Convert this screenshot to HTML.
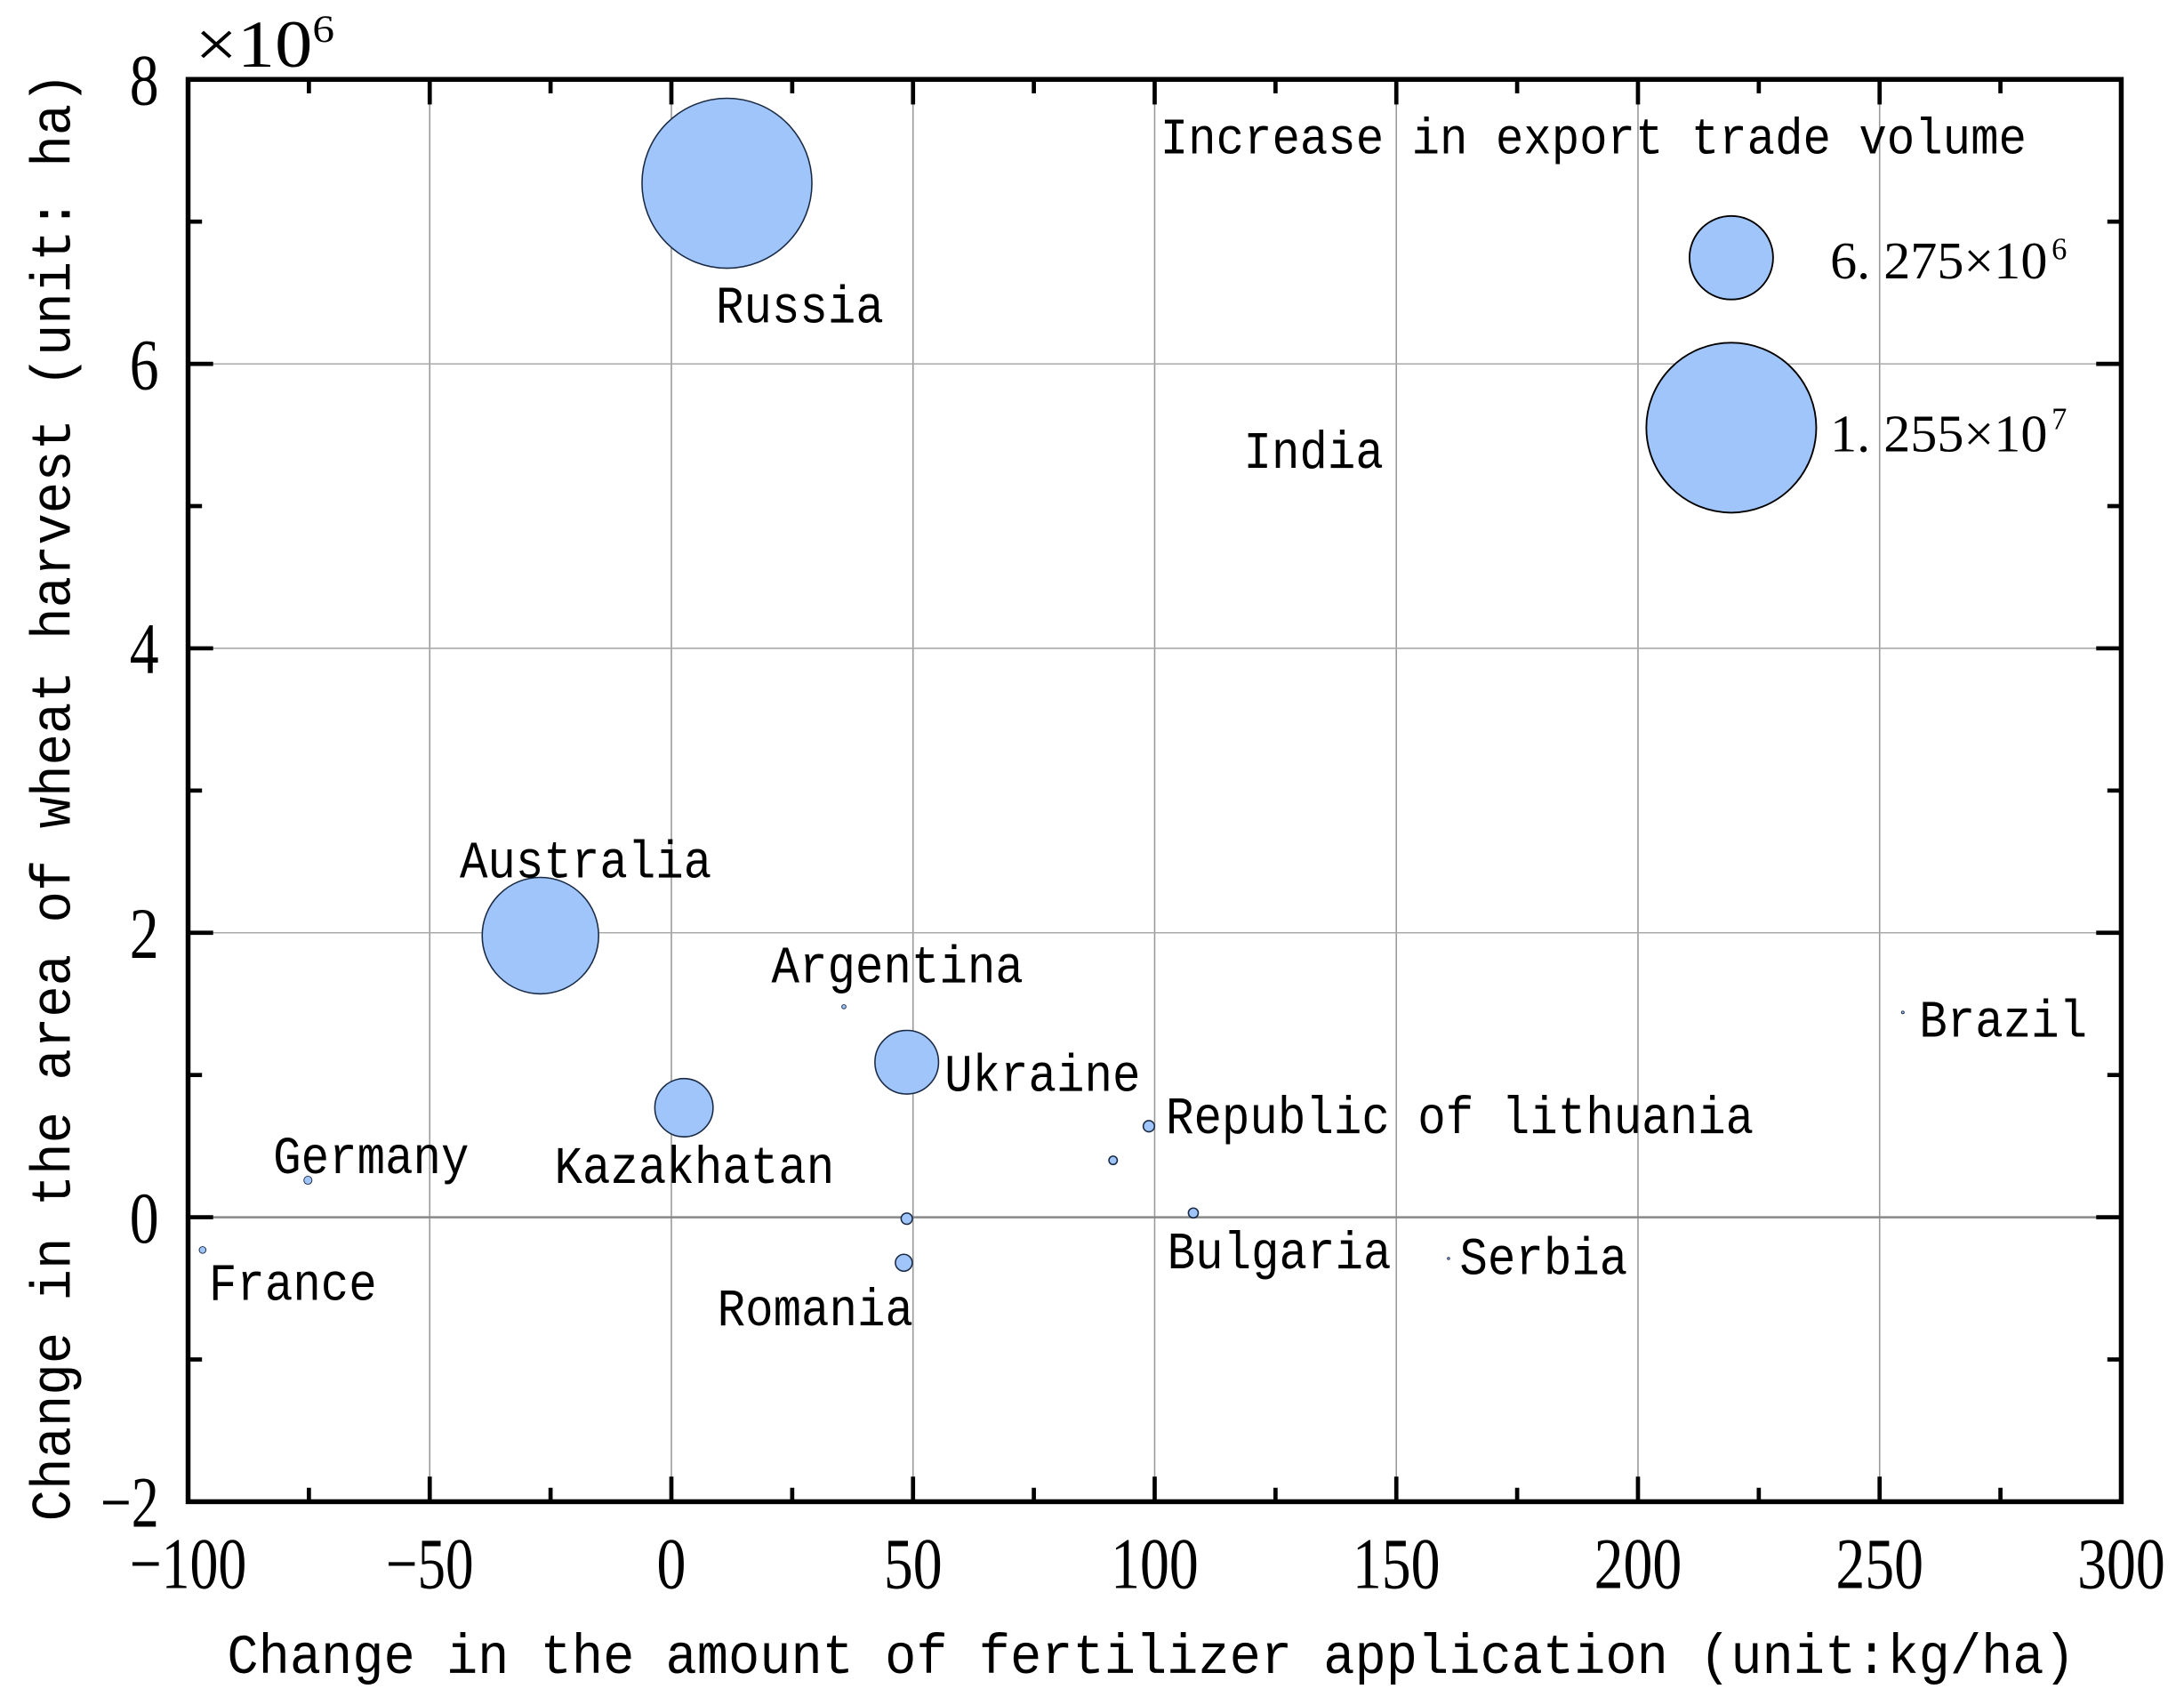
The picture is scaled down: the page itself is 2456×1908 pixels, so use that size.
<!DOCTYPE html>
<html><head><meta charset="utf-8"><style>
html,body{margin:0;padding:0;background:#fff;width:2456px;height:1908px;overflow:hidden}
svg{display:block}
.mono{font-family:"Liberation Mono","Noto Serif CJK SC",monospace}
.num{font-family:"Liberation Serif",serif}
</style></head><body>
<svg id="chart" width="2456" height="1908" viewBox="0 0 1568 1218.2" xmlns="http://www.w3.org/2000/svg">
<g id="grid"></g>
<g id="bubbles"></g>
<g id="labels"></g>
<rect x="135" y="57" width="1388" height="1021" fill="none" stroke="#000" stroke-width="3.5"/>
<g id="ticks"></g>
<text class="num" x="140" y="48" font-size="48" textLength="100" lengthAdjust="spacingAndGlyphs">×10<tspan dy="-18" font-size="28">6</tspan></text>
<text class="mono" transform="translate(50,572) rotate(-90)" text-anchor="middle" font-size="40" textLength="1040" lengthAdjust="spacingAndGlyphs">Change in the area of wheat harvest (unit: ha)</text>
<text class="mono" x="163" y="1201" font-size="40" textLength="1327" lengthAdjust="spacingAndGlyphs">Change in the amount of fertilizer application (unit:kg/ha)</text>
<g>
<text class="mono" x="833" y="110" font-size="37" textLength="622" lengthAdjust="spacingAndGlyphs">Increase in export trade volume</text>
<circle cx="1243" cy="185" r="30" fill="#9fc5fa" stroke="#000" stroke-width="1.2"/>
<circle cx="1243" cy="307" r="61" fill="#9fc5fa" stroke="#000" stroke-width="1.2"/>
<text class="num" x="1314" y="200" font-size="38" textLength="156" lengthAdjust="spacingAndGlyphs">6. 275×10</text>
<text class="num" x="1473" y="186" font-size="22">6</text>
<text class="num" x="1314" y="324" font-size="38" textLength="156" lengthAdjust="spacingAndGlyphs">1. 255×10</text>
<text class="num" x="1473" y="308" font-size="22">7</text>
</g>
</svg>
<script>
const countries = ["Russia","Australia","Ukraine","Kazakhatan","Germany","France","Romania","Romania-2","Republic of lithuania","Lithuania-2","Bulgaria","Argentina","Brazil","Serbia","India"];
const xValues = [11.5,-27.1,48.7,2.6,-75.2,-97,48.1,48.7,98.8,91.4,108,35.7,254.8,160.8,0];
const yValues = [7.27,1.98,1.09,0.77,0.26,-0.23,-0.32,-0.01,0.64,0.40,0.03,1.48,1.44,-0.29,0];
const volumes = [12550000,8600000,4700000,4300000,600000,500000,1250000,830000,830000,620000,730000,310000,200000,160000,0];
const labelNames = ["Russia","Australia","Argentina","Ukraine","Republic of lithuania","Germany","Kazakhatan","France","Romania","Bulgaria","Serbia","Brazil","India"];
const labelX = [9.2,-43.8,20.7,56.5,102.3,-82.4,-24.2,-95.7,9.5,102.6,163.1,258.2,118.4];
const labelY = [6.29,2.39,1.65,0.89,0.59,0.31,0.24,-0.58,-0.76,-0.36,-0.40,1.27,5.27];
const xTicks = [-100,-50,0,50,100,150,200,250,300];
const yTicks = [-2,0,2,4,6,8];
const xTickLabels = ["-100","-50","0","50","100","150","200","250","300"];
const yTickLabels = ["-2","0","2","4","6","8"];

const X0=135,X1=1523,Y0=1078,Y1=57;
const sx = v => X0 + (v+100)/400*(X1-X0);
const sy = v => Y0 - (v+2)/10*(Y0-Y1);
const sr = v => v/12550000*61;
const NS="http://www.w3.org/2000/svg";
function mk(tag, attrs, parent){const e=document.createElementNS(NS,tag);for(const k in attrs)e.setAttribute(k,attrs[k]);parent.appendChild(e);return e;}

const grid=document.getElementById('grid');
xTicks.forEach(t=>{const l=mk('line',{x1:sx(t),x2:sx(t),y1:Y1,y2:Y0,stroke:'#999','stroke-width':1},grid);

});
yTicks.forEach(t=>{const l=mk('line',{x1:X0,x2:X1,y1:sy(t),y2:sy(t),stroke:t===0?'#888':'#aaa','stroke-width':t===0?1.6:1},grid);

});

const ticks=document.getElementById('ticks');
for(let v=-100;v<=300;v+=25){const major=v%50===0;const len=major?18:10;
 [[Y0,Y0-len],[Y1,Y1+len]].forEach(p=>{const l=mk('line',{x1:sx(v),x2:sx(v),y1:p[0],y2:p[1],stroke:'#000','stroke-width':3},ticks);
 
 });}
for(let v=-2;v<=8;v+=1){const major=v%2===0;const len=major?18:10;
 [[X0,X0+len],[X1,X1-len]].forEach(p=>{const l=mk('line',{x1:p[0],x2:p[1],y1:sy(v),y2:sy(v),stroke:'#000','stroke-width':3},ticks);
 
 });}
xTicks.forEach((t,i)=>{const s=xTickLabels[i];const e=mk('text',{x:sx(t),y:1140,'text-anchor':'middle','font-size':52,class:'num',textLength:s.length*21,lengthAdjust:'spacingAndGlyphs'},ticks);e.textContent=s.replace('-','\u2212');
 
 });
yTicks.forEach((t,i)=>{const s=yTickLabels[i];const e=mk('text',{x:114,y:sy(t)+18,'text-anchor':'end','font-size':52,class:'num',textLength:s.length*21,lengthAdjust:'spacingAndGlyphs'},ticks);e.textContent=s.replace('-','\u2212');
 
 });

const bub=document.getElementById('bubbles');
countries.forEach((c,i)=>{if(volumes[i]<=0)return;const r=Math.max(sr(volumes[i]),0.8);
 const e=mk('circle',{cx:sx(xValues[i]),cy:sy(yValues[i]),r:r,fill:'#9fc5fa',stroke:'#1a2a44','stroke-width':r<3?0.6:1},bub);
 
 });

const lab=document.getElementById('labels');
labelNames.forEach((n,i)=>{const e=mk('text',{x:sx(labelX[i]),y:sy(labelY[i]),'font-size':38,class:'mono',textLength:n.length*20.1,lengthAdjust:'spacingAndGlyphs'},lab);e.textContent=n;
 
 });
</script>
</body></html>
